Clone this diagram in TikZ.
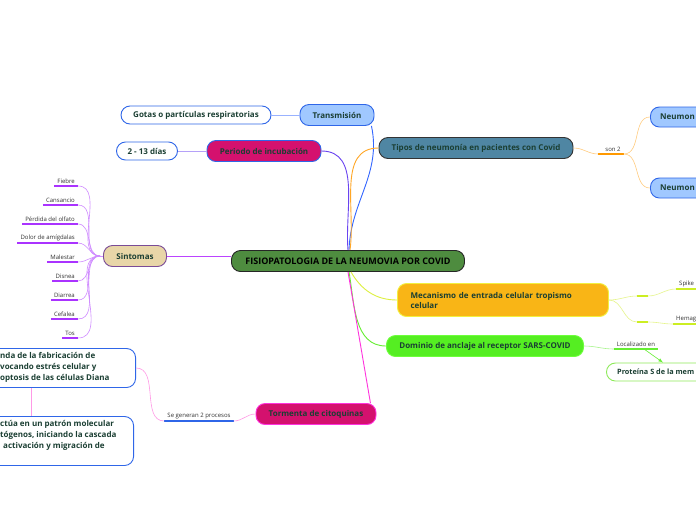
\documentclass[tikz,border=0pt]{standalone}
\usepackage{fontspec}
\setmainfont{Open Sans}

\definecolor{txtgreen}{HTML}{1B3F33}
\definecolor{hubgreen}{HTML}{4E8C3F}
\definecolor{paleblue}{HTML}{A0C8FF}
\definecolor{boxblue}{HTML}{2F66E8}
\definecolor{citored}{HTML}{D4116E}
\definecolor{sinttan}{HTML}{E8D6A8}
\definecolor{sintedge}{HTML}{7A4C96}
\definecolor{tipsteel}{HTML}{4F86A3}
\definecolor{mecorange}{HTML}{F9B516}
\definecolor{mecedge}{HTML}{F2F040}
\definecolor{domgreen}{HTML}{55EE22}
\definecolor{domedge}{HTML}{6CFF3A}
\definecolor{protedge}{HTML}{8EEA5A}
% connector colours
\definecolor{cTrans}{HTML}{3366FF}
\definecolor{cIncub}{HTML}{6A44F0}
\definecolor{cSint}{HTML}{BB44FF}
\definecolor{cSintTwig}{HTML}{D08CFF}
\definecolor{cSintLine}{HTML}{AA33FF}
\definecolor{cTipos}{HTML}{FFA726}
\definecolor{cTiposTwig}{HTML}{FFCC80}
\definecolor{cTiposLine}{HTML}{FF9900}
\definecolor{cMec}{HTML}{DDF040}
\definecolor{cMecTwig}{HTML}{E6F58C}
\definecolor{cMecLine}{HTML}{CCEE22}
\definecolor{cDom}{HTML}{66EE33}
\definecolor{cDomTwig}{HTML}{A8F58C}
\definecolor{cTorm}{HTML}{FF33DD}
\definecolor{cTormTwig}{HTML}{FF99E6}

\tikzset{
  topic/.style={draw, rounded corners=9pt, line width=0.9pt, minimum height=21pt,
    inner xsep=10pt, font=\bfseries\fontsize{8}{10}\selectfont, text=txtgreen},
  leafbox/.style={topic, fill=white, draw=boxblue, minimum height=18pt},
  boxtext/.style={inner sep=0pt, align=left, font=\bfseries\fontsize{8}{11}\selectfont, text=txtgreen},
  small/.style={font=\fontsize{6}{7}\selectfont, text=black!80, inner xsep=3pt, inner ysep=2pt},
  branch/.style={line width=0.9pt},
  twig/.style={line width=0.6pt},
  uline/.style={line width=1.5pt}
}

\begin{document}
\begin{tikzpicture}[x=1pt,y=-1pt]
    \fill[white] (0,0) rectangle (696,520);
    \useasboundingbox (0,0) rectangle (696,520);

    % centre
    \node[topic, fill=hubgreen, draw=black!85, minimum width=233pt, text=black, font=\bfseries\fontsize{9}{10}\selectfont] (hub) at (348,261) {FISIOPATOLOGIA DE LA NEUMOVIA POR COVID};

    % left side
    \node[topic, fill=paleblue, draw=boxblue, minimum width=74pt] (trans) at (337,115) {Transmisión};
    \node[leafbox, minimum width=150pt] (gotas) at (196,115) {Gotas o partículas respiratorias};
    \node[topic, fill=citored, draw=boxblue, minimum width=114pt] (incub) at (264,151) {Periodo de incubación};
    \node[leafbox, minimum width=61pt] (dias) at (147,151) {2 - 13 días};
    \node[topic, fill=sinttan, draw=sintedge, minimum width=63pt] (sint) at (135,256) {Sintomas};
    \node[topic, fill=citored, draw=cTorm, minimum width=120pt] (torm) at (316,414) {Tormenta de citoquinas};

    % right side
    \node[topic, fill=tipsteel, draw=black!80, minimum width=194pt] (tipos) at (476,148) {Tipos de neumonía en pacientes con Covid};
    \node[topic, fill=paleblue, draw=boxblue, minimum height=20pt, minimum width=80pt, anchor=west] (neu1) at (650,117) {};
    \node[boxtext, anchor=west] (neu1t) at (660,117) {Neumon};
    \node[topic, fill=paleblue, draw=boxblue, minimum height=20pt, minimum width=80pt, anchor=west] (neu2) at (650,188) {};
    \node[boxtext, anchor=west] (neu2t) at (660,188) {Neumon};
    \node[topic, fill=mecorange, draw=mecedge, minimum width=211pt, minimum height=33pt, align=left, text width=185pt] (mec) at (503,300) {Mecanismo de entrada celular tropismo\\celular};
    \node[topic, fill=domgreen, draw=domedge, minimum width=197pt] (dom) at (485,346) {Dominio de anclaje al receptor SARS-COVID};
    \node[leafbox, draw=protedge, minimum height=18pt, minimum width=110pt, anchor=west] (prot) at (606,372) {};
    \node[boxtext, anchor=west, font=\bfseries\fontsize{7.3}{9}\selectfont] (prott) at (617,372) {Proteína S de la mem};

    % clipped boxes at the left edge
    \node[leafbox, minimum width=240pt, minimum height=39pt, anchor=east] (proc1) at (136,368) {};
    \node[leafbox, minimum width=240pt, minimum height=49pt, anchor=east] (proc2) at (134,441) {};
    \node[boxtext, anchor=north west] (t1) at (0,352) {nda de la fabricación de\\vocando estrés celular y\\optosis de las células Diana};
    \node[boxtext, anchor=north west] (t2) at (0,420) {ctúa en un patrón molecular\\tógenos, iniciando la cascada\\\hspace{3pt}activación y migración de};
    \draw[twig, cTormTwig] (proc1.south -| 31,0) -- (proc2.north -| 31,0);

    % main branches
    \draw[branch, cTrans] ([xshift=1pt]hub.north) to[out=88,in=-78] ([xshift=-3pt]trans.south east);
    \draw[branch, cIncub] (hub.north) to[out=95,in=0] (incub.east);
    \draw[branch, cTipos] ([xshift=2pt]hub.north) to[out=82,in=180] (tipos.west);
    \draw[branch, cSint] (sint.east) -- (sint.east -| hub.west);
    \draw[branch, cMec] ([xshift=3pt]hub.south) to[out=-60,in=180] (mec.west);
    \draw[branch, cDom] ([xshift=1pt]hub.south) to[out=-80,in=180] (dom.west);
    \draw[branch, cTorm] (hub.south) -- ([xshift=-6pt]torm.north east);

    \draw[twig, cTrans!50] (trans.west) -- (gotas.east);
    \draw[twig, cIncub!50] (incub.west) -- (dias.east);

    % sintomas
    \coordinate (sjoin) at (100,256);
    \draw[twig, cSintTwig] (sjoin) -- (sint.west);
    \foreach \txt/\yy [count=\i] in {Fiebre/180, Cansancio/199, Pérdida del olfato/218, Dolor de amígdalas/237, Malestar/256, Disnea/275, Diarrea/294, Cefalea/313, Tos/332}
    {
        \node[small, anchor=south east] (s\i) at (78,\yy+6) {\txt};
        \draw[uline, cSintLine] (s\i.south west) -- (s\i.south east);
        \draw[twig, cSintTwig] (s\i.south east) to[out=0,in=180] (sjoin);
    }

    % tormenta
    \node[small, anchor=south] (gen) at (199,421) {Se generan 2 procesos};
    \draw[uline, boxblue] (gen.south west) -- (gen.south east);
    \draw[twig, cTormTwig] (torm.west) to[out=180,in=0] (gen.south east);
    \draw[twig, cTormTwig] (gen.south west) to[out=180,in=0] (proc1.east);

    % tipos
    \node[small, anchor=south] (son) at (613,154) {son 2};
    \draw[uline, cTiposLine] ([xshift=-4pt]son.south west) -- (son.south east);
    \draw[twig, cTiposTwig] (tipos.east) to[out=0,in=180] ([xshift=-4pt]son.south west);
    \draw[twig, cTiposTwig] (son.south east) to[out=0,in=180] (neu1.west);
    \draw[twig, cTiposTwig] (son.south east) to[out=0,in=180] (neu2.west);

    % mecanismo
    \coordinate (m1a) at (637,296);
    \coordinate (m1b) at (648,296);
    \coordinate (m2a) at (637,322);
    \coordinate (m2b) at (648,322);
    \node[small, anchor=south west] (spike) at (676,289) {Spike};
    \node[small, anchor=south west] (hema) at (673,324) {Hemag};
    \draw[uline, cMecLine] (m1a) -- (m1b);
    \draw[uline, cMecLine] (m2a) -- (m2b);
    \draw[uline, cMecLine] (spike.south west) -- ++(30,0);
    \draw[uline, cMecLine] (hema.south west) -- ++(30,0);
    \draw[twig, cMecTwig] (mec.east) to[out=0,in=180] (m1a);
    \draw[twig, cMecTwig] (mec.east) to[out=0,in=180] (m2a);
    \draw[twig, cMecTwig] (m1b) to[out=0,in=180] (spike.south west);
    \draw[twig, cMecTwig] (m2b) to[out=0,in=180] (hema.south west);

    % dominio
    \node[small, anchor=south] (loc) at (636,349) {Localizado en};
    \draw[uline, cDom] (loc.south west) -- (loc.south east);
    \draw[twig, cDomTwig] (dom.east) to[out=0,in=180] (loc.south west);
    \draw[twig, cDom, -latex] ([xshift=8pt]loc.south) -- ([xshift=57pt]prot.north west);

\end{tikzpicture}
\end{document}
